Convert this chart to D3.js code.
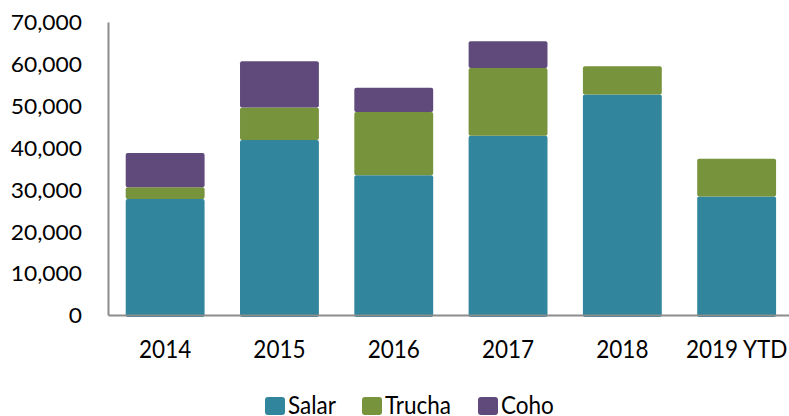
<!DOCTYPE html>
<html>
<head>
<meta charset="utf-8">
<script src="https://cdn.jsdelivr.net/npm/d3@7"></script>
<style>
  html, body { margin: 0; padding: 0; background: #fff; }
  svg { display: block; }
  text { font-family: Lato, "Open Sans", sans-serif; fill: #000; }
</style>
</head>
<body>
<svg id="chart" width="789" height="416"></svg>
<script>
// ---- data ----
const categories = ["2014", "2015", "2016", "2017", "2018", "2019 YTD"];
const seriesNames = ["Salar", "Trucha", "Coho"];
const salar  = [27700, 41800, 33400, 42800, 52700, 28300];
const trucha = [2800, 7800, 15100, 16200, 6700, 9000];
const coho   = [8200, 11000, 5800, 6400, 0, 0];
const yTicks = [0, 10000, 20000, 30000, 40000, 50000, 60000, 70000];
const colors = ["#31859C", "#77933C", "#604A7B"];

// ---- layout ----
const svg = d3.select("#chart");
const plotLeft = 108, plotTop = 22, plotBottom = 315;
const step = 114.3;

const x = d3.scaleBand()
  .domain(categories)
  .range([plotLeft, plotLeft + step * categories.length])
  .paddingInner(0.31)
  .paddingOuter(0.155);

const y = d3.scaleLinear().domain([0, 70000]).range([plotBottom, plotTop]);

const rows = categories.map((c, i) => ({ cat: c, Salar: salar[i], Trucha: trucha[i], Coho: coho[i] }));
const stacked = d3.stack().keys(seriesNames)(rows);
const color = d3.scaleOrdinal().domain(seriesNames).range(colors);

// bars
svg.append("g").selectAll("g")
  .data(stacked)
  .join("g")
  .attr("fill", d => color(d.key))
  .selectAll("rect")
  .data(d => d.filter(p => p[1] - p[0] > 0))
  .join("rect")
  .attr("x", d => x(d.data.cat))
  .attr("width", x.bandwidth())
  .attr("y", d => y(d[1]))
  .attr("height", d => (y(d[0]) - y(d[1])) + (d[0] === 0 ? 2 : 0))
  .attr("rx", 2).attr("ry", 2);

// y axis
const yAxis = svg.append("g")
  .attr("transform", `translate(${plotLeft},0)`)
  .call(d3.axisLeft(y).tickValues(yTicks).tickSize(0).tickSizeOuter(0).tickPadding(26)
    .tickFormat(d3.format(",")));
yAxis.select(".domain").attr("stroke", "#8c8c8c").attr("stroke-width", 2);
yAxis.selectAll("text")
  .attr("font-family", "Lato, sans-serif")
  .attr("font-size", 21.5)
  .attr("dy", "0.36em")
  .attr("fill", "#000");

// x axis
const xAxis = svg.append("g")
  .attr("transform", `translate(0,${plotBottom})`)
  .call(d3.axisBottom(x).tickSize(0).tickSizeOuter(0).tickPadding(25));
xAxis.select(".domain").attr("stroke", "#8c8c8c").attr("stroke-width", 2);
xAxis.selectAll("text")
  .attr("font-family", "Lato, sans-serif")
  .attr("font-size", 25)
  .attr("fill", "#000");

// horizontal compression to mimic a narrower face
function squeeze(sel, f) {
  sel.each(function () {
    const w = this.getComputedTextLength();
    if (w > 0) d3.select(this).attr("textLength", w * f).attr("lengthAdjust", "spacingAndGlyphs");
  });
}
squeeze(yAxis.selectAll(".tick text"), 1.06);
squeeze(xAxis.selectAll(".tick text"), 0.9);

// legend
const legendX = [265, 362, 478];
const legend = svg.append("g");
seriesNames.forEach((name, i) => {
  const g = legend.append("g").attr("transform", `translate(${legendX[i]},397)`);
  g.append("rect").attr("width", 20).attr("height", 18).attr("rx", 3).attr("fill", colors[i]);
  const t = g.append("text").attr("x", 23).attr("y", 17).attr("font-size", 25).text(name);
  squeeze(t, 0.9);
});
</script>
</body>
</html>
